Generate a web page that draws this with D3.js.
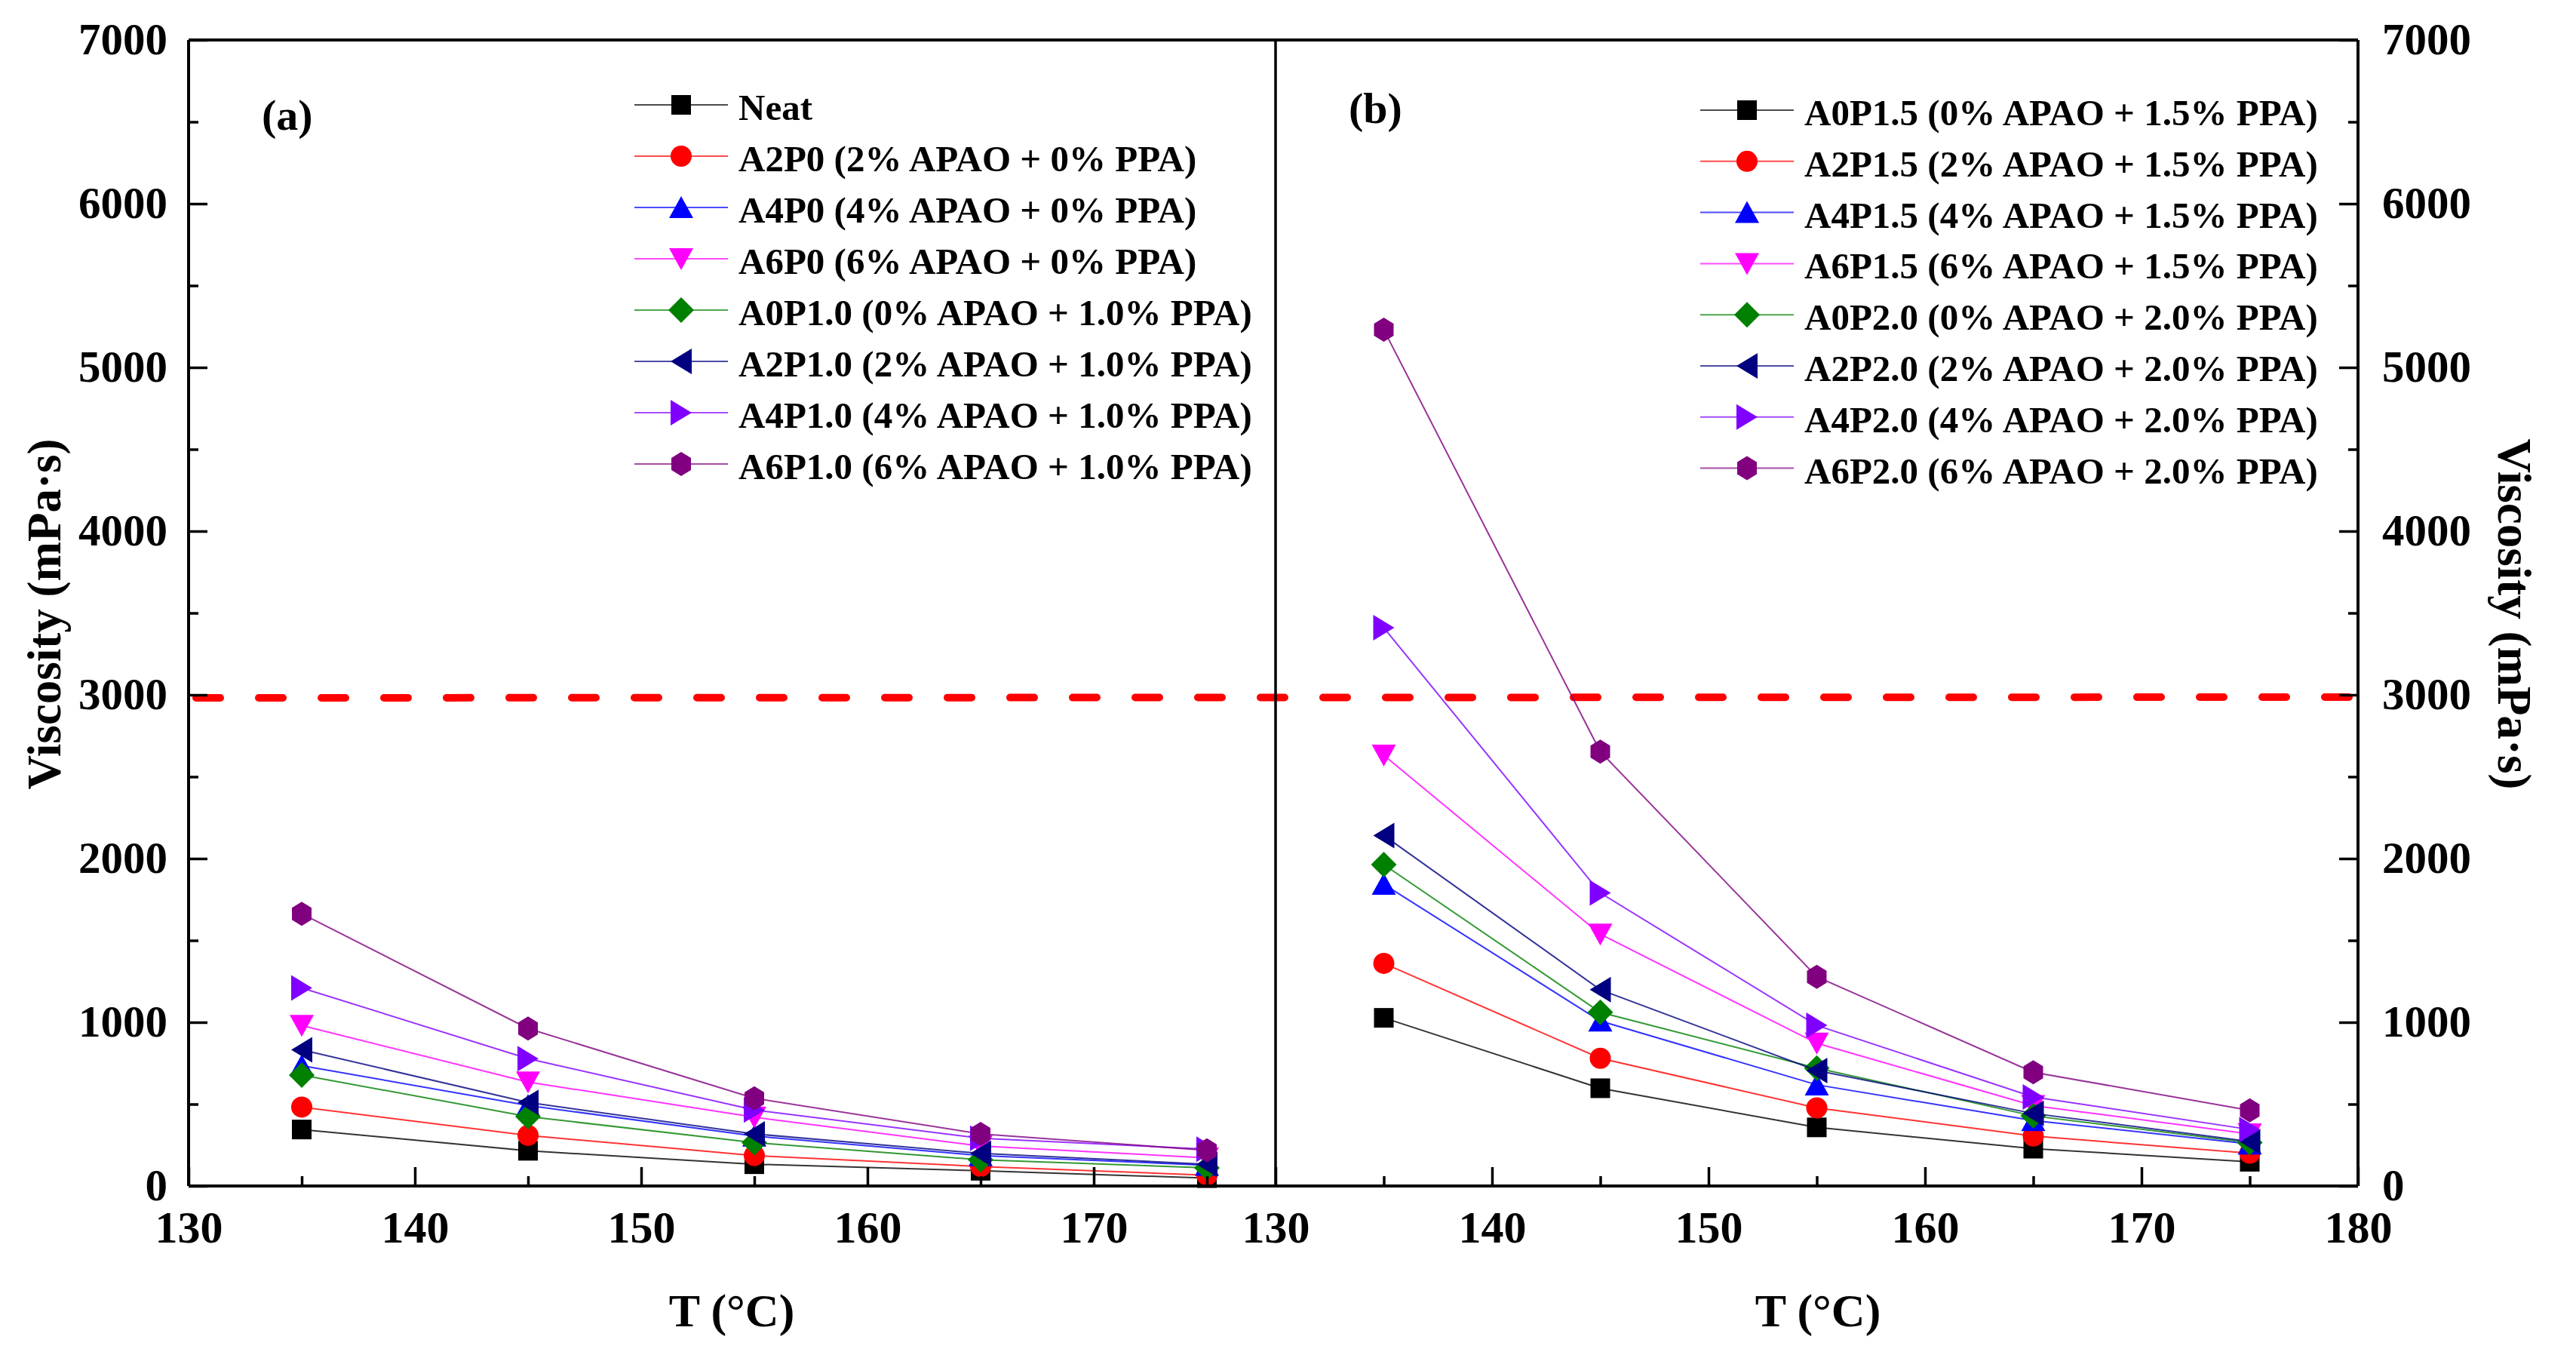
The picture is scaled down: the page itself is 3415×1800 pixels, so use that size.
<!DOCTYPE html>
<html lang="en">
<head>
<meta charset="UTF-8">
<script src="https://d3js.org/d3.v7.min.js"></script>
<style>
  html, body { margin: 0; padding: 0; background: #fff; }
  text { font-family: "Liberation Serif", "Times New Roman", serif; font-weight: bold; fill: #000; }
</style>
</head>
<body>
<div id="chart"></div>
<script>
// temperatures (°C) shared by every series
var temps = [135, 145, 155, 165, 175];

// panel (a)
var namesA = ["Neat",
              "A2P0 (2% APAO + 0% PPA)",
              "A4P0 (4% APAO + 0% PPA)",
              "A6P0 (6% APAO + 0% PPA)",
              "A0P1.0 (0% APAO + 1.0% PPA)",
              "A2P1.0 (2% APAO + 1.0% PPA)",
              "A4P1.0 (4% APAO + 1.0% PPA)",
              "A6P1.0 (6% APAO + 1.0% PPA)"];
var viscA = [[345, 215, 133, 93, 48],
             [482, 309, 186, 119, 66],
             [735, 492, 305, 186, 127],
             [980, 635, 420, 244, 172],
             [677, 424, 265, 160, 111],
             [832, 510, 318, 199, 133],
             [1210, 778, 464, 292, 225],
             [1663, 962, 536, 318, 218]];

// panel (b)
var namesB = ["A0P1.5 (0% APAO + 1.5% PPA)",
              "A2P1.5 (2% APAO + 1.5% PPA)",
              "A4P1.5 (4% APAO + 1.5% PPA)",
              "A6P1.5 (6% APAO + 1.5% PPA)",
              "A0P2.0 (0% APAO + 2.0% PPA)",
              "A2P2.0 (2% APAO + 2.0% PPA)",
              "A4P2.0 (4% APAO + 2.0% PPA)",
              "A6P2.0 (6% APAO + 2.0% PPA)"];
var viscB = [[1027, 597, 358, 228, 148],
             [1360, 780, 477, 305, 200],
             [1843, 1008, 618, 400, 257],
             [2631, 1538, 872, 491, 318],
             [1963, 1061, 720, 428, 265],
             [2141, 1199, 705, 443, 272],
             [3410, 1790, 981, 544, 345],
             [5230, 2653, 1278, 695, 462]];

var limitValue = 3000;   // red dashed reference line
var yTicks = [0, 1000, 2000, 3000, 4000, 5000, 6000, 7000];
var yMinor = [500, 1500, 2500, 3500, 4500, 5500, 6500];
var xTicksA = [130, 140, 150, 160, 170];
var xTicksB = [130, 140, 150, 160, 170, 180];
var xMinor = [135, 145, 155, 165, 175];

// styles
var colors = ["#000000", "#ff0000", "#0000ff", "#ff00ff", "#008000", "#000080", "#8000ff", "#800080"];
var shapes = ["square", "circle", "up", "down", "diamond", "left", "right", "hex"];

var W = 3415, H = 1800;
var svg = d3.select("#chart").append("svg").attr("width", W).attr("height", H);

var xA = d3.scaleLinear().domain([130, 178]).range([250, 1690]);
var xB = d3.scaleLinear().domain([130, 180]).range([1691, 3126]);
var y = d3.scaleLinear().domain([0, 7000]).range([1572, 53]);
var fmt = d3.format("d");

// marker path centred on 0,0
function marker(s) {
    var p;
    switch (s) {
        case "square": return "M-13,-13H13V13H-13Z";
        case "circle": return "M-14,0A14,14 0 1,0 14,0A14,14 0 1,0 -14,0Z";
        case "up": return "M0,-15L16,14L-16,14Z";
        case "down": return "M0,15L16,-14L-16,-14Z";
        case "diamond": return "M0,-17L17,0L0,17L-17,0Z";
        case "left": return "M-14,0L14,-17L14,17Z";
        case "right": return "M14,0L-14,-17L-14,17Z";
        case "hex":
            p = d3.range(6).map(function (i) {
                var a = Math.PI / 3 * i - Math.PI / 2;
                return [15 * Math.cos(a), 16 * Math.sin(a)];
            });
            return "M" + p.join("L") + "Z";
    }
}

var line = d3.line();

function drawPanel(x, values) {
    var g = svg.append("g");
    values.forEach(function (vals, i) {
        var pts = vals.map(function (v, j) { return [x(temps[j]), y(v)]; });
        g.append("path")
            .attr("d", line(pts))
            .attr("fill", "none")
            .attr("stroke", colors[i])
            .attr("stroke-width", 2)
            .attr("stroke-opacity", 0.8);
        g.selectAll(null).data(pts).enter().append("path")
            .attr("d", marker(shapes[i]))
            .attr("transform", function (d) { return "translate(" + d[0] + "," + d[1] + ")"; })
            .attr("fill", colors[i]);
    });
}

function drawLegend(names, x0, y0, step) {
    var g = svg.append("g");
    names.forEach(function (n, i) {
        var yy = y0 + i * step;
        g.append("line")
            .attr("x1", x0).attr("x2", x0 + 124)
            .attr("y1", yy).attr("y2", yy)
            .attr("stroke", colors[i]).attr("stroke-width", 2).attr("stroke-opacity", 0.7);
        g.append("path")
            .attr("d", marker(shapes[i]))
            .attr("transform", "translate(" + (x0 + 62) + "," + yy + ")")
            .attr("fill", colors[i]);
        g.append("text")
            .attr("x", x0 + 138).attr("y", yy + 20)
            .style("font-size", "49px")
            .text(n);
    });
}

// reference line
svg.append("line")
    .attr("x1", xA(130) + 10).attr("x2", xB(180) - 5)
    .attr("y1", y(limitValue) + 4).attr("y2", y(limitValue) + 3)
    .attr("stroke", "#ff0000")
    .attr("stroke-width", 10)
    .attr("stroke-linecap", "round")
    .attr("stroke-dasharray", "32 51");

drawPanel(xA, viscA);
drawPanel(xB, viscB);

// axes
function styleAxis(g, size) {
    g.select(".domain").remove();
    g.selectAll(".tick line").attr("stroke", "#000").attr("stroke-width", 3.5);
    g.selectAll("text").style("font-size", size + "px").attr("fill", "#000");
}

var yAxL = svg.append("g").attr("transform", "translate(250,0)")
    .call(d3.axisLeft(y).tickValues(yTicks).tickFormat(fmt).tickSize(-25).tickPadding(28));
styleAxis(yAxL, 59);
var yAxLm = svg.append("g").attr("transform", "translate(250,0)")
    .call(d3.axisLeft(y).tickValues(yMinor).tickSize(-13).tickFormat(""));
styleAxis(yAxLm, 59);

var yAxR = svg.append("g").attr("transform", "translate(3126,0)")
    .call(d3.axisRight(y).tickValues(yTicks).tickFormat(fmt).tickSize(-25).tickPadding(32));
styleAxis(yAxR, 59);
var yAxRm = svg.append("g").attr("transform", "translate(3126,0)")
    .call(d3.axisRight(y).tickValues(yMinor).tickSize(-13).tickFormat(""));
styleAxis(yAxRm, 59);

var xAxA = svg.append("g").attr("transform", "translate(0,1572)")
    .call(d3.axisBottom(xA).tickValues(xTicksA).tickFormat(fmt).tickSize(-25).tickPadding(32));
styleAxis(xAxA, 60);
var xAxAm = svg.append("g").attr("transform", "translate(0,1572)")
    .call(d3.axisBottom(xA).tickValues(xMinor).tickSize(-13).tickFormat(""));
styleAxis(xAxAm, 60);

var xAxB = svg.append("g").attr("transform", "translate(0,1572)")
    .call(d3.axisBottom(xB).tickValues(xTicksB).tickFormat(fmt).tickSize(-25).tickPadding(32));
styleAxis(xAxB, 60);
var xAxBm = svg.append("g").attr("transform", "translate(0,1572)")
    .call(d3.axisBottom(xB).tickValues(xMinor).tickSize(-13).tickFormat(""));
styleAxis(xAxBm, 60);

// frame: top, bottom, left, divider, right
var frame = svg.append("g").attr("stroke", "#000").attr("fill", "none");
frame.append("line").attr("x1", 250).attr("x2", 3126).attr("y1", 53).attr("y2", 53).attr("stroke-width", 4);
frame.append("line").attr("x1", 250).attr("x2", 3126).attr("y1", 1572).attr("y2", 1572).attr("stroke-width", 4);
frame.append("line").attr("x1", 250).attr("x2", 250).attr("y1", 53).attr("y2", 1572).attr("stroke-width", 4);
frame.append("line").attr("x1", 1691).attr("x2", 1691).attr("y1", 53).attr("y2", 1572).attr("stroke-width", 3.5);
frame.append("line").attr("x1", 3126).attr("x2", 3126).attr("y1", 53).attr("y2", 1572).attr("stroke-width", 4);

// legends
drawLegend(namesA, 841, 139, 68);
drawLegend(namesB, 2254, 146, 67.8);

// panel labels
svg.append("text").attr("x", 347).attr("y", 172).style("font-size", "58px").text("(a)");
svg.append("text").attr("x", 1788).attr("y", 163).style("font-size", "58px").text("(b)");

// axis titles
svg.append("text").attr("x", 970).attr("y", 1758).attr("text-anchor", "middle")
    .style("font-size", "62px").text("T (°C)");
svg.append("text").attr("x", 2410).attr("y", 1758).attr("text-anchor", "middle")
    .style("font-size", "62px").text("T (°C)");
svg.append("text").attr("transform", "translate(80,814) rotate(-90)").attr("text-anchor", "middle")
    .style("font-size", "63px").text("Viscosity (mPa·s)");
svg.append("text").attr("transform", "translate(3312,814) rotate(90)").attr("text-anchor", "middle")
    .style("font-size", "63px").text("Viscosity (mPa·s)");
</script>
</body>
</html>
